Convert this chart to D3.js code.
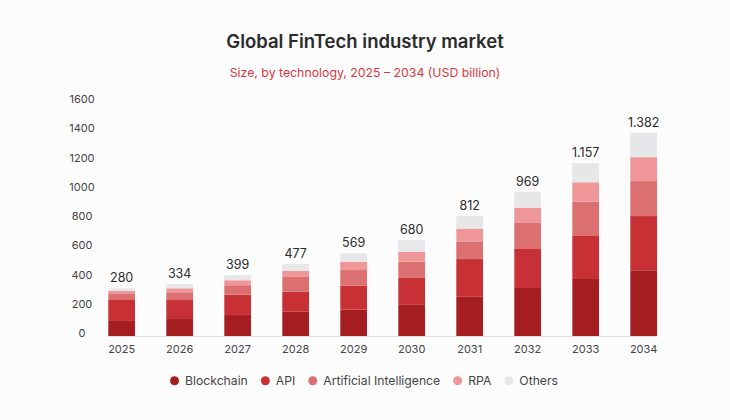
<!DOCTYPE html>
<html>
<head>
<meta charset="utf-8">
<script src="https://cdn.jsdelivr.net/npm/d3@7"></script>
<style>
  html, body { margin: 0; padding: 0; background: #fcfcfd; }
  svg { display: block; font-family: Inter, "Open Sans", sans-serif; }
</style>
</head>
<body>
<div id="chart"></div>
<script>
var width = 730,
	height = 420;

// data (USD billion)
var years = ["2025", "2026", "2027", "2028", "2029", "2030", "2031", "2032", "2033", "2034"];
var totalLabels = ["280", "334", "399", "477", "569", "680", "812", "969", "1.157", "1.382"];
var blockchain = [103, 116, 144, 166, 180, 217, 271, 328, 390, 449];
var api = [148, 130, 139, 137, 164, 180, 255, 267, 294, 371];
var ai = [41, 53, 64, 101, 107, 111, 121, 178, 235, 239];
var rpa = [16, 27, 34, 41, 55, 68, 87, 105, 132, 164];
var others = [18, 29, 36, 48, 59, 80, 87, 109, 132, 166];
var seriesNames = ["Blockchain", "API", "Artificial Intelligence", "RPA", "Others"];
var yTicks = [0, 200, 400, 600, 800, 1000, 1200, 1400, 1600];

var colours = ["#a51c21", "#c73034", "#dc6f70", "#ee9698", "#e7e7e9"];

var rows = years.map(function(y, i) {
	return {
		year: y,
		"Blockchain": blockchain[i],
		"API": api[i],
		"Artificial Intelligence": ai[i],
		"RPA": rpa[i],
		"Others": others[i]
	};
});

var svg = d3.select("#chart").append("svg")
	.attr("width", width)
	.attr("height", height);

svg.append("rect")
	.attr("width", width)
	.attr("height", height)
	.attr("fill", "#fcfcfd");

// titles
svg.append("text")
	.attr("x", 365)
	.attr("y", 47.5)
	.attr("text-anchor", "middle")
	.attr("fill", "#2b2b2b")
	.style("font-size", "18.5px")
	.style("font-weight", 600)
	.text("Global FinTech industry market");

svg.append("text")
	.attr("x", 365)
	.attr("y", 77)
	.attr("text-anchor", "middle")
	.attr("fill", "#d9393f")
	.style("font-size", "12.3px")
	.text("Size, by technology, 2025 \u2013 2034 (USD billion)");

var x = d3.scaleBand()
	.domain(years)
	.range([93.8, 671.5])
	.paddingInner(0.54)
	.paddingOuter(0.25);

var y = d3.scaleLinear()
	.domain([0, 1600])
	.range([336, 102]);

var stack = d3.stack().keys(seriesNames);
var layers = stack(rows);

svg.append("g")
	.selectAll("g")
	.data(layers)
	.enter().append("g")
	.attr("fill", function(d, i) { return colours[i]; })
	.selectAll("rect")
	.data(function(d) { return d; })
	.enter().append("rect")
	.attr("x", function(d) { return x(d.data.year); })
	.attr("y", function(d) { return y(d[1]); })
	.attr("width", x.bandwidth())
	.attr("height", function(d) { return y(d[0]) - y(d[1]); });

// total labels
var topLayer = layers[layers.length - 1];
svg.append("g")
	.selectAll("text")
	.data(topLayer)
	.enter().append("text")
	.attr("x", function(d) { return x(d.data.year) + x.bandwidth() / 2; })
	.attr("y", function(d) { return y(d[1]) - 6; })
	.attr("text-anchor", "middle")
	.attr("fill", "#2b2b2b")
	.style("font-size", "12.5px")
	.text(function(d, i) { return totalLabels[i]; });

// baseline
svg.append("line")
	.attr("x1", x(years[0]))
	.attr("x2", x(years[years.length - 1]) + x.bandwidth())
	.attr("y1", y(0) + 0.5)
	.attr("y2", y(0) + 0.5)
	.attr("stroke", "#dcdcdf")
	.attr("stroke-width", 1);

// y axis (labels only)
var yAxis = svg.append("g")
	.attr("transform", "translate(82,-3)")
	.call(d3.axisLeft(y).tickValues(yTicks).tickSize(0).tickPadding(0).tickFormat(d3.format("d")));
yAxis.select(".domain").remove();
yAxis.selectAll("text")
	.attr("text-anchor", "middle")
	.attr("fill", "#444")
	.style("font-family", "Inter, sans-serif")
	.style("font-size", "11px");

// x axis (labels only)
var xAxis = svg.append("g")
	.attr("transform", "translate(0," + 345 + ")")
	.call(d3.axisBottom(x).tickSize(0).tickPadding(0));
xAxis.select(".domain").remove();
xAxis.selectAll("text")
	.attr("fill", "#444")
	.style("font-family", "Inter, sans-serif")
	.style("font-size", "11px");

// legend
var legend = svg.append("g");
var cursor = 0;
seriesNames.forEach(function(name, i) {
	var g = legend.append("g");
	g.append("circle")
		.attr("cx", cursor + 4.5)
		.attr("cy", 0)
		.attr("r", 4.5)
		.attr("fill", colours[i]);
	var t = g.append("text")
		.attr("x", cursor + 15)
		.attr("y", 4.3)
		.attr("fill", "#444")
		.style("font-size", "12.2px")
		.text(name);
	cursor = cursor + 15 + t.node().getComputedTextLength() + 13;
});
var legendWidth = cursor - 13;
legend.attr("transform", "translate(" + (364 - legendWidth / 2) + ",380.7)");
</script>
</body>
</html>
